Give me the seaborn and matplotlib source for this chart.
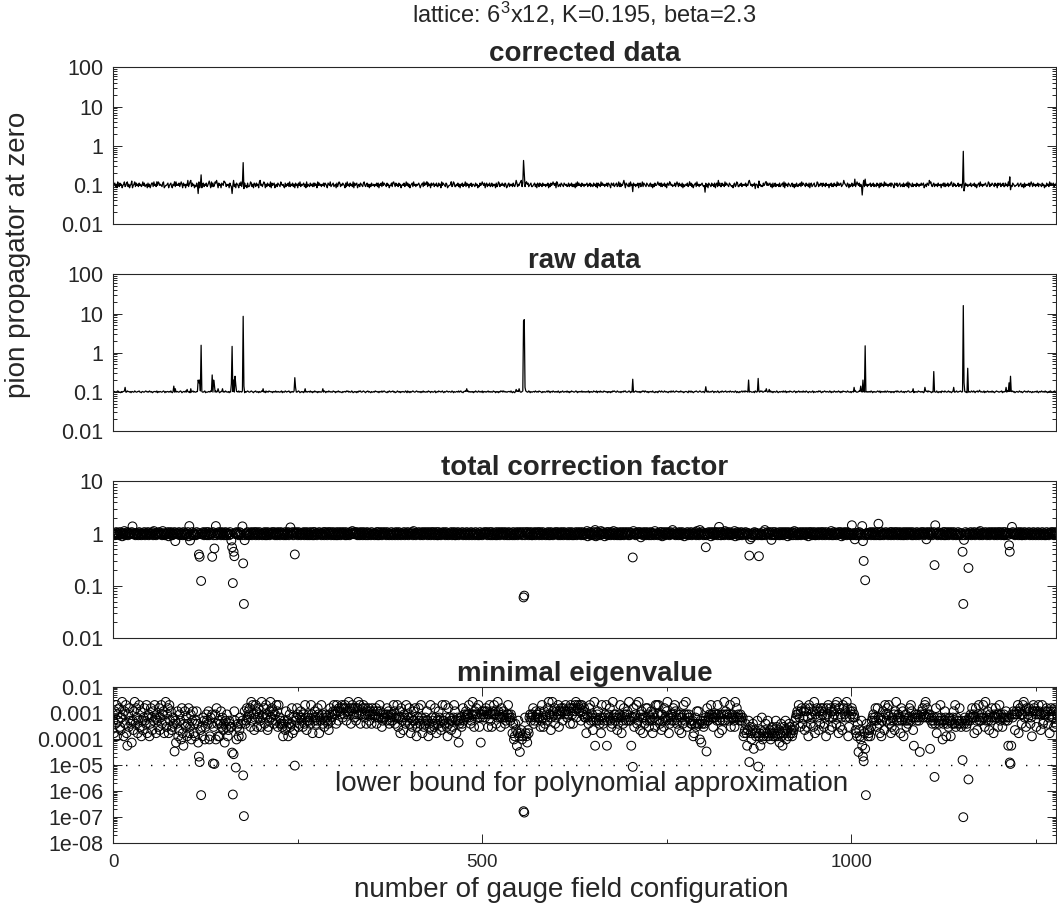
import numpy as np
import pandas as pd
import matplotlib
matplotlib.use("Agg")
import matplotlib.pyplot as plt
from matplotlib.ticker import FixedLocator, LogLocator, NullFormatter
import seaborn as sns

# configurations 0 .. 1279, one code character per configuration
N_CONF = 1280
X_MAX = 1277

# raw data baseline: digit d -> 0.1 * 10**(0.015*(d - 4.5))
RAW_CODES = [
    "45544565 44354556 54465545 35544654 45564435 54456545 46545345 55463545",
    "54456535 45545464 35546455 44565345 54645545 35456454 45535465 54456344",
    "45546534 55464545 34556454 65445354 45564435 54645546 45354565 44565435",
    "56445354 46554536 45465545 35546454 54456354 46545564 35454655 44565345",
    "45356454 55464535 46545354 54456465 35546545 44655354 56454435 45546564",
    "54465345 45354656 44565435 56454354 45465545 35546456 54435465 45564534",
    "46545354 55446536 45354565 44565454 53546454 45465535 54456345 46554564",
    "35456545 54465354 45546456 44355654 56454545 35465446 54546355 45456454",
    "54465535 45354656 46545445 55464354 35456545 44565436 54465354 45546545",
    "46554354 54456465 35546545 45464354 56445546 45354655 44565354 55464545",
    "45456354 54465546 35546454 46554535 45354656 54465445 35546564 44565354",
    "54456545 45354656 46545354 55464435 45356546 54465454 35546456 44565545",
    "46545345 55436546 45345565 44565445 53545464 45456535 54465345 46545564",
    "45546545 54465354 35456456 46554545 54445365 45354656 44565454 55464535",
    "54465345 45546456 35454655 44565354 56454546 45465435 54456354 45546564",
    "35456545 54465354 46545456 45354655 54465445 35546564 44565354 55464545",
    "45465354 54456546 35545464 46545535 45355646 54456445 35545664 44556354",
    "54465545 45345656 46554354 55446435 45365546 54456454 35564456 44556545",
    "46545354 54465465 35564545 45446354 56454546 45345655 44556354 55446545",
    "45564534 55446545 34565454 65454354 45546435 54654546 45345565 44556435",
]
RAW_PEAKS = {
    16: 0.13, 82: 0.14, 84: 0.12, 100: 0.115, 105: 0.12, 115: 0.2, 116: 0.17,
    117: 0.2, 119: 1.55, 134: 0.27, 136: 0.2, 137: 0.15, 142: 0.12, 148: 0.12,
    160: 0.16, 161: 1.45, 163: 0.2, 165: 0.25, 166: 0.15, 176: 8.5, 177: 0.14,
    203: 0.12, 246: 0.23, 247: 0.13, 260: 0.12, 284: 0.12, 479: 0.12, 546: 0.115,
    550: 0.12, 556: 6.5, 557: 7.0, 558: 0.13, 704: 0.21, 803: 0.135, 861: 0.2,
    874: 0.22, 885: 0.12, 889: 0.115, 1004: 0.13, 1013: 0.14, 1016: 0.2,
    1019: 1.5, 1084: 0.12, 1100: 0.13, 1112: 0.33, 1139: 0.13, 1152: 16.0,
    1153: 0.17, 1158: 0.4, 1174: 0.11, 1210: 0.13, 1214: 0.17, 1216: 0.25,
}

# corrected data baseline: digit d -> 0.1 * 10**(0.03*(d - 4.5))
CORR_CODES = [
    "45635274 36452457 34673524 56245736 45364534 74634526 35246637 45354764",
    "54367234 45624563 25463745 46357526 45254635 74364524 36457246 25635463",
    "46352736 34763526 45265437 63545264 37463526 54264736 45634263 34763526",
    "53645274 45357625 36453726 45624536 54375453 26354637 35463526 45264735",
    "45635273 54364536 36452746 45354636 54265473 45634526 35763546 54263745",
    "36453726 45624536 54367435 63525364 45354636 25463746 54364524 46357536",
    "45364524 54634746 35245637 45354564 24563746 54364526 45635463 36452746",
    "54365234 45634763 35463525 46354736 45254635 54364524 36457546 25635463",
    "46354526 34763546 45365235 63545364 35263546 74364536 45634563 34563526",
    "53645364 45354625 36457546 25634536 54365453 46354635 35263746 45364535",
    "45635463 54364536 26453746 45354636 54265463 45634736 35463526 54363745",
    "36453546 25634736 54365435 63525364 45754636 35463526 54364534 46357536",
    "45362534 54634746 35245637 45354564 34763526 54364536 25635463 36453746",
    "54365434 25634763 35463545 46354726 45354635 54264534 36457546 45635263",
    "46354536 34563726 45365435 63525364 35463746 54364536 25634563 34763546",
    "53645364 45254635 36453746 45634536 54365253 46354635 75463546 45364535",
    "45635463 54364526 36453746 45354636 54265463 45634536 35463726 54363545",
    "36453546 45624536 54367435 63545364 45254636 35463546 74364534 46354526",
    "45364534 54634546 35245637 45354564 34763546 54364526 45635463 36453746",
    "54365434 45634563 35263545 46357536 45354635 54364524 36453746 45635463",
]
CORR_PEAKS = {
    25: 0.125, 59: 0.12, 83: 0.12, 101: 0.13, 105: 0.13, 115: 0.06, 119: 0.18,
    130: 0.125, 140: 0.13, 150: 0.125, 161: 0.06, 163: 0.13, 176: 0.37,
    177: 0.08, 199: 0.13, 379: 0.115, 425: 0.12, 458: 0.12, 546: 0.13,
    553: 0.13, 556: 0.42, 557: 0.2, 560: 0.12, 601: 0.12, 692: 0.13,
    704: 0.067, 754: 0.12, 781: 0.12, 802: 0.065, 803: 0.11, 820: 0.13,
    862: 0.13, 870: 0.08, 875: 0.125, 885: 0.12, 990: 0.13, 1005: 0.14,
    1015: 0.055, 1017: 0.13, 1019: 0.14, 1106: 0.13, 1152: 0.72, 1153: 0.07,
    1215: 0.16, 1216: 0.075,
}

# total correction factor band: digit d -> 10**(0.02*(d - 4.5))
FACTOR_CODES = [
    "45346554 36452457 34563544 56345435 45364534 54634546 35445637 45354564",
    "54375434 45624563 35463545 46354536 45354625 54364534 36453546 45635463",
    "46354536 34563546 45365435 63545364 35463546 54364536 45634563 34563546",
    "53645364 45354635 36453546 45634536 54365453 46354635 35463546 45364535",
    "45635463 54364536 36453546 45354636 54365463 45634536 35463546 54363545",
    "36457546 45634536 54365435 63545364 45354636 35463546 54364534 46354536",
    "45364534 54634546 35445637 45354564 34563546 54364536 45635463 36453546",
    "54365434 45634563 35463545 46354536 45354635 54364534 36453546 45635463",
    "46354536 34563546 45365435 63545364 35463546 54364536 45634563 34563546",
    "53645364 45354635 36453546 45634536 54365453 46354635 35463546 45364535",
    "45725463 54364826 36453746 45254636 54365473 45634536 35463546 54363545",
    "37453546 45614536 54365435 63545374 45354636 25463546 54364584 46354536",
    "45364524 54634546 35445637 45384564 34563546 54264536 45635463 36453746",
    "54365434 45724563 35463545 46354536 41354635 54364534 36483546 45635463",
    "46354536 34563546 45265435 63575364 35463546 54364526 45634563 34563546",
    "53645364 45354735 36453546 45624536 54365453 46354635 35463546 75364535",
    "45635463 54364536 36453546 45354636 54365463 45634536 35463546 54363545",
    "36453546 45634536 54365435 63545364 45354636 35463546 54364534 46354536",
    "45364534 54634546 35445637 45354564 34563546 54364536 45635463 36453546",
    "54365434 45634563 35463545 46354536 45354635 54364534 36453546 45635463",
]
FACTOR_OUTLIERS = {
    26: 1.38, 84: 0.72, 103: 1.4, 104: 0.74, 116: 0.40, 117: 0.36, 119: 0.124,
    134: 0.36, 137: 0.52, 139: 1.4, 160: 0.74, 161: 0.55, 162: 0.113, 163: 0.45,
    164: 0.37, 175: 1.38, 176: 0.27, 177: 0.045, 178: 0.75, 240: 1.32,
    246: 0.40, 556: 0.06, 557: 0.065, 704: 0.35, 803: 0.55, 821: 1.35,
    862: 0.38, 863: 0.78, 875: 0.37, 892: 0.76, 1001: 1.45, 1005: 0.78,
    1015: 1.4, 1016: 0.72, 1017: 0.30, 1019: 0.128, 1037: 1.55, 1102: 0.78,
    1113: 0.25, 1114: 1.45, 1151: 0.45, 1152: 0.045, 1153: 0.76, 1159: 0.22,
    1214: 0.6, 1215: 0.45, 1218: 1.35,
}

# minimal eigenvalue band: letter -> 10**(-3.3 + 0.12*(letter - 'S'))
EIG_CODES = [
    "SOVRXNUS WQPTYUNV RXOKUQWS RLSPVYRW TOSXQVNS PTWSRXOT UNRWTPVS XTOUSQWP",
    "TXRUVOSY QUWOXSVP QTRNSLRV NPUSMWOK RVQTNRWO QUMSVORN SVRLTNPW QNTSMQUS",
    "RVMNTRUP QSUMWRNS NRVQTPRL SQUNPSRQ QPNRVSPM QRNPTRNS UXVRSWTV UWQYSXUP",
    "TXVQTWUS QYTUWRTX UPQSVYTW UVRUSXVQ XTRSRQNR SPVQSNRU QRWOTPUS TWUQRTVS",
    "TQURXTPS TUSRXUOT SVTRSWUO TSXURTQS UTSRPUWS TUVXUVRX VSWVUWXT WUXWSVUY",
    "VWRVXWUT WSUWYUXR UVWXTUWR VUWSUVRW UVTUWRVT TXVTQSUT TUSWUVRS UTSUXVRT",
    "TXQTVOWS TPUTRXSU TWROTQSV SWRNQTWS RXTOSQRT SVSNRQXP TSRQWTOS RVTSPQXS",
    "SRXTQNWR TSPSQTXV SOTSLRST QRWSUTVU TUXTRSUY UQVUWUTX QTLUVTUV TWVUQUXS",
    "UQVUXUVR TYVUTQWT UVTRSTUX UTSUTORM NRPKOSNI OPMNROTO NLPOTUST UWRSTVUT",
    "UTVQSXTQ VRTUSWYU UPTYVUWR TVUXQVUW VSWVUXVT UVWRXWUR WVXYTWXV WXSXUVWT",
    "TOUTRWXS TUPSYKTS UVSRTOXT RSTUXKSU TWSQRYTU SUTPRTUX TOSRWUTS UVSYTSKT",
    "TWQTUXRS YTPUVTOT RTWSWUQS TVSOUTQX SXUXSRUP USQWTSVY TORTUSUW SXVTRSUP",
    "TUOTRXUS YUQTUTSR RSNORTQV RVRMSLRS QRSTUWST UTXUTQTU TUSXUOST UPSUYSVU",
    "UTSUXQTU TSQYTWTU TSUTSTNO PROKPSNQ OMPRJOPN OSQNOKPT MNOPRNOS NOPMOQNP",
    "ONSQNOPL ORNKOQPS MOPNRQOP NOPQSTUV UXTQVWRT VPWVQTNX WRUTVQYO UVWTPVRW",
    "VUWQRTNW UXTPWVQT VUWXRYTO WQUTPXWU VTYWNQTV UWVTUTPO NRIPNMSK PNOJMRPN",
    "OPNQSTUS TWSQWTRO TNSVTPXU SWUXRSOQ TSUPVYST USTOWSVN TSUQSRTW SXVTPKTU",
    "TSUTSITU VWTUXYTW UTUJSTRS TSRWOTSR SXTSMRSV TNRSQTSN SRTVRXQT SRSWRQSP",
    "SRTSQRSN TSUTWTUO TWSPUXST SUTXTQYS TVSPUTSW TOUTWTUQ UXSUTQTU TSVTSKTU",
    "LKUTVUPU VUXOVWUR UXYTVQWU TWVRTNVX WVUQVUXV UPUXRSUV UWVRTOVW UTVQWRVU",
]
EIG_OUTLIERS = {
    83: 3.3e-5, 116: 2.1e-5, 117: 1.3e-5, 119: 7e-7, 135: 1.15e-5, 137: 1.1e-5,
    161: 3.0e-5, 162: 7.4e-7, 163: 2.6e-5, 166: 8e-6, 176: 4e-6, 177: 1.1e-7,
    246: 9.5e-6, 556: 1.7e-7, 557: 1.5e-7, 704: 8.5e-6, 804: 3.3e-5,
    862: 1.3e-5, 874: 8.7e-6, 1016: 2.1e-5, 1017: 1.4e-5, 1020: 7e-7,
    1113: 3.5e-6, 1151: 1.55e-5, 1152: 1e-7, 1159: 2.8e-6, 1215: 1.25e-5,
    1216: 1.1e-5,
}

LOWER_BOUND = 1e-5


def codes(lines, n=N_CONF):
    s = "".join(lines).replace(" ", "")
    s = (s + s[-1] * n)[:n]
    return np.frombuffer(s.encode(), dtype=np.uint8).astype(float)


def put(arr, extra):
    for i, v in extra.items():
        arr[i] = v
    return arr


conf = np.arange(N_CONF)
raw = put(0.1 * 10 ** (0.015 * (codes(RAW_CODES) - 48 - 4.5)), RAW_PEAKS)
corr = put(0.1 * 10 ** (0.03 * (codes(CORR_CODES) - 48 - 4.5)), CORR_PEAKS)
factor = put(10 ** (0.02 * (codes(FACTOR_CODES) - 48 - 4.5)), FACTOR_OUTLIERS)
eig = put(10 ** (-3.3 + 0.12 * (codes(EIG_CODES) - ord("S"))), EIG_OUTLIERS)

df = pd.DataFrame({"conf": conf, "raw": raw, "corr": corr,
                   "factor": factor, "eig": eig})

sns.set_style("ticks")
plt.rcParams["font.family"] = ["Liberation Sans", "DejaVu Sans"]
plt.rcParams["mathtext.fontset"] = "custom"
plt.rcParams["mathtext.rm"] = "Liberation Sans"
plt.rcParams["axes.linewidth"] = 0.8

fig = plt.figure(figsize=(10.57, 9.09), dpi=100)
left, width, height = 0.1072, 0.8914, 0.1722
bottoms = [0.7536, 0.5259, 0.2981, 0.0723]
axes = [fig.add_axes([left, b, width, height]) for b in bottoms]

# panel 1: corrected data
ax = axes[0]
sns.lineplot(data=df, x="conf", y="corr", ax=ax, color="black", lw=0.9,
             estimator=None)
ax.set_title("corrected data", fontsize=20, fontweight="bold", pad=3)

# panel 2: raw data
ax = axes[1]
sns.lineplot(data=df, x="conf", y="raw", ax=ax, color="black", lw=0.9,
             estimator=None)
ax.set_title("raw data", fontsize=20, fontweight="bold", pad=3)

# panel 3: correction factor
ax = axes[2]
sns.scatterplot(data=df, x="conf", y="factor", ax=ax, marker="o", s=40,
                facecolors="none", edgecolor="black", linewidth=0.75)
ax.set_title("total correction factor", fontsize=20, fontweight="bold", pad=3)

# panel 4: minimal eigenvalue
ax = axes[3]
sns.scatterplot(data=df, x="conf", y="eig", ax=ax, marker="o", s=40,
                facecolors="none", edgecolor="black", linewidth=0.75)
ax.axhline(LOWER_BOUND, color="black", lw=1.0, ls=(0, (1, 8)))
ax.text(648, 1.8e-6, "lower bound for polynomial approximation",
        fontsize=20, ha="center", va="center")
ax.set_title("minimal eigenvalue", fontsize=20, fontweight="bold", pad=3)

ylims = [(0.01, 100), (0.01, 100), (0.01, 10), (1e-8, 0.01)]
yticks = [
    ([100, 10, 1, 0.1, 0.01], ["100", "10", "1", "0.1", "0.01"]),
    ([100, 10, 1, 0.1, 0.01], ["100", "10", "1", "0.1", "0.01"]),
    ([10, 1, 0.1, 0.01], ["10", "1", "0.1", "0.01"]),
    ([0.01, 1e-3, 1e-4, 1e-5, 1e-6, 1e-7, 1e-8],
     ["0.01", "0.001", "0.0001", "1e-05", "1e-06", "1e-07", "1e-08"]),
]

for i, ax in enumerate(axes):
    ax.set_yscale("log")
    ax.set_xlim(0, X_MAX)
    ax.set_ylim(*ylims[i])
    ax.set_yticks(yticks[i][0], yticks[i][1])
    ax.yaxis.set_minor_locator(LogLocator(base=10, subs=np.arange(2, 10), numticks=50))
    ax.yaxis.set_minor_formatter(NullFormatter())
    ax.set_xlabel("")
    ax.set_ylabel("")
    for s in ax.spines.values():
        s.set_visible(True)
        s.set_linewidth(0.8)
    ax.tick_params(axis="y", which="both", direction="in", left=True,
                   right=True, labelsize=15.5, pad=7, width=0.7)
    ax.tick_params(axis="y", which="major", length=6.5)
    ax.tick_params(axis="y", which="minor", length=3)
    if i < 3:
        ax.tick_params(axis="x", which="both", bottom=False, top=False,
                       labelbottom=False)
    else:
        ax.set_xticks([0, 500, 1000], ["0", "500", "1000"])
        ax.xaxis.set_minor_locator(FixedLocator([250, 750, 1250]))
        ax.tick_params(axis="x", which="both", direction="in", bottom=True,
                       top=True, labelsize=13.5, pad=8, width=0.7)
        ax.tick_params(axis="x", which="major", length=6.5)
        ax.tick_params(axis="x", which="minor", length=3)

fig.text(0.5525, 1 - 14 / 909, r"lattice: $\mathregular{6^3}$x12, K=0.195, beta=2.3",
         fontsize=17, ha="center", va="center")
fig.text(0.017, 1 - 255 / 909, "pion propagator at zero", fontsize=20,
         rotation=90, ha="center", va="center")
fig.text(571 / 1057, 1 - 897 / 909, "number of gauge field configuration",
         fontsize=20, ha="center", va="baseline")

fig.savefig("out.png", dpi=100)
